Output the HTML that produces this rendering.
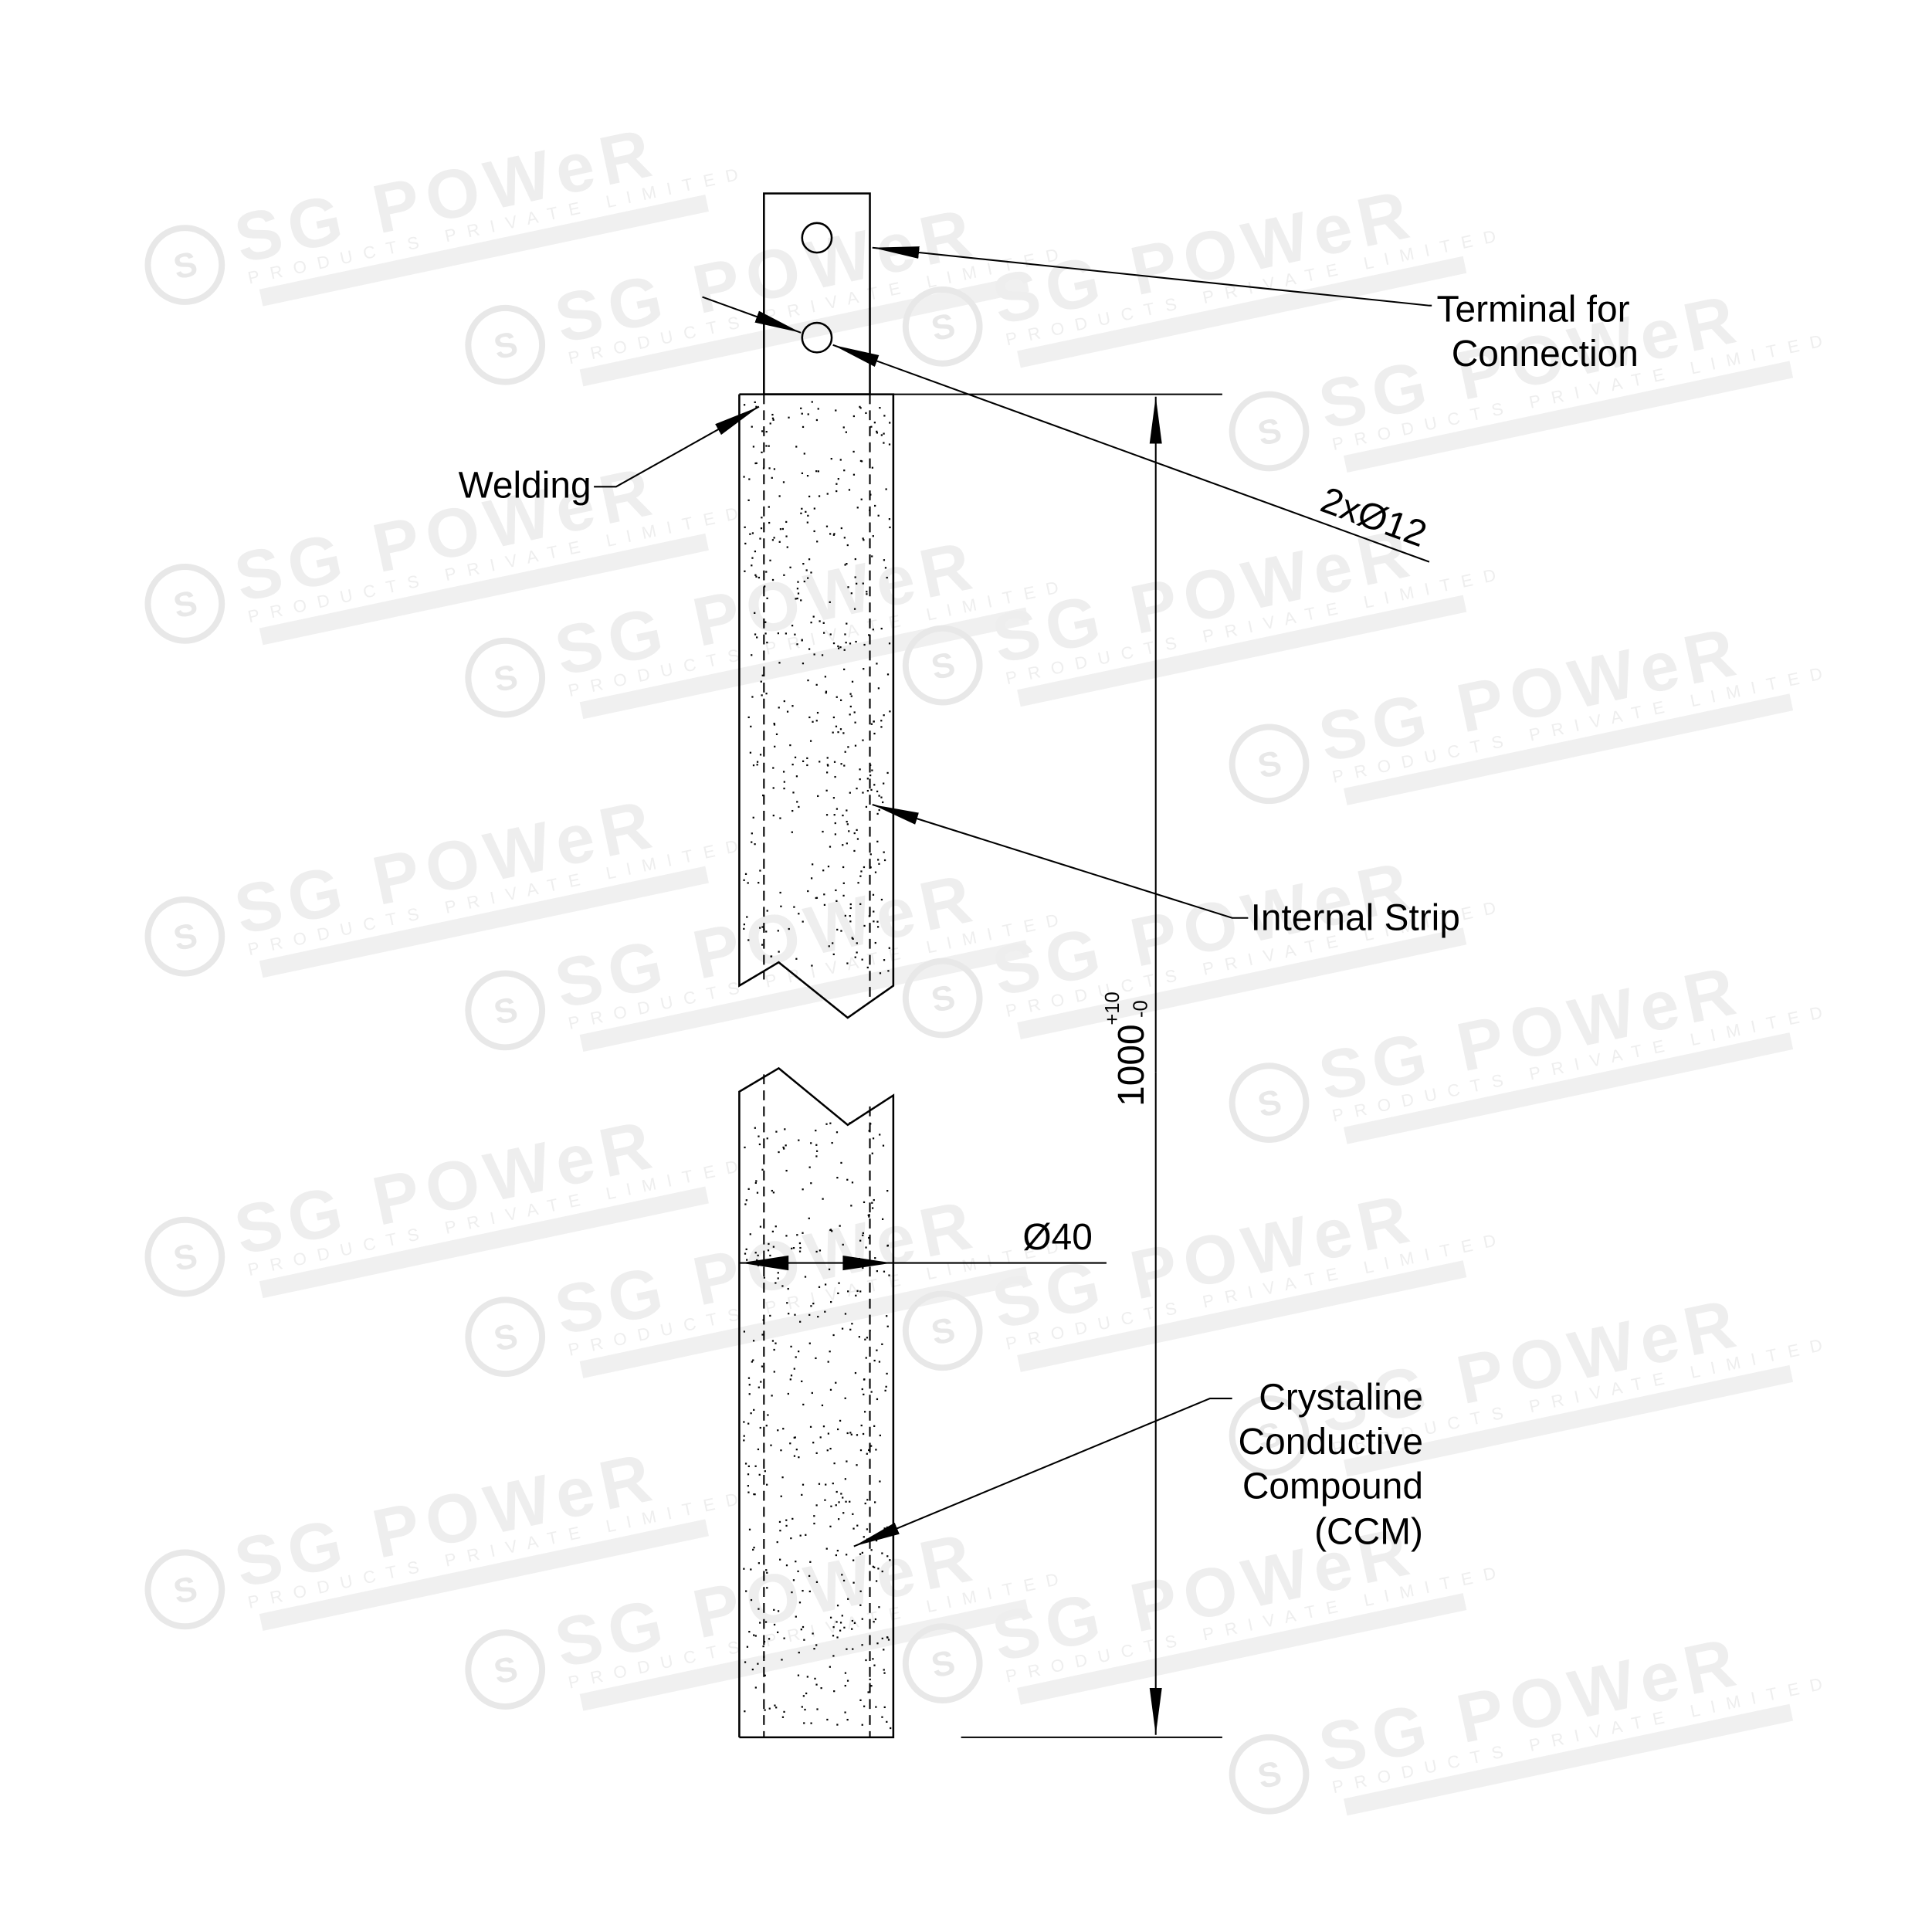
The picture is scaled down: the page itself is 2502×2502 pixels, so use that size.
<!DOCTYPE html>
<html><head><meta charset="utf-8"><style>
html,body{margin:0;padding:0;background:#fff;}
svg{display:block;}
text{font-family:"Liberation Sans",sans-serif;}
</style></head><body>
<svg id="s" width="2502" height="2502" viewBox="0 0 1568 1568" xmlns="http://www.w3.org/2000/svg">
<defs>
<marker id="a" markerWidth="40" markerHeight="12" refX="38" refY="6" orient="auto" markerUnits="userSpaceOnUse">
<path d="M0,1 L38,6 L0,11 Z" fill="#000"/></marker>
<g id="wm" fill="none" stroke="#e8e8e8">
<circle cx="0" cy="0" r="30" stroke-width="5"/>
<text x="-9" y="10" font-size="28" fill="#e8e8e8" stroke="none" font-weight="bold">S</text>
<text x="45" y="8" font-size="56" fill="#eeeeee" stroke="none" font-weight="bold" letter-spacing="6">SG POWeR</text>
<text x="48" y="26" font-size="14" fill="#eeeeee" stroke="none" letter-spacing="9">PRODUCTS PRIVATE LIMITED</text>
<rect x="55" y="32" width="370" height="14" fill="#f0f0f0" stroke="none"/>
</g>
</defs>
<g id="wms"></g>
<g id="dots" fill="#000"></g>
<g stroke="#000" stroke-width="1.6" fill="none">
<rect x="620" y="157" width="86" height="163"/>
<circle cx="663" cy="193" r="12"/>
<circle cx="663" cy="274" r="12"/>
<polyline points="600,320 600,800 632,781 688,826 725,800 725,320 600,320"/>
<polyline points="600,1410 600,886 632,867 688,913 725,889 725,1410 600,1410"/>
<g stroke-dasharray="8,5" stroke-width="1.3">
<line x1="620" y1="320" x2="620" y2="795"/>
<line x1="706" y1="320" x2="706" y2="810"/>
<line x1="620" y1="872" x2="620" y2="1410"/>
<line x1="706" y1="898" x2="706" y2="1410"/>
</g>
<line x1="706" y1="320" x2="992" y2="320" stroke-width="1.3"/>
<line x1="780" y1="1410" x2="992" y2="1410" stroke-width="1.3"/>
<line x1="938" y1="870" x2="938" y2="322" marker-end="url(#a)" stroke-width="1.3"/>
<line x1="938" y1="870" x2="938" y2="1408" marker-end="url(#a)" stroke-width="1.3"/>
<line x1="600" y1="1025" x2="898" y2="1025" stroke-width="1.3"/>
<polyline points="1162,248 1160,248 708,201" marker-end="url(#a)" stroke-width="1.3"/>
<line x1="570" y1="241" x2="650" y2="270" marker-end="url(#a)" stroke-width="1.3"/>
<line x1="1160" y1="456" x2="676" y2="280" marker-end="url(#a)" stroke-width="1.3"/>
<polyline points="482,395 500,395 616,330" marker-end="url(#a)" stroke-width="1.3"/>
<polyline points="1013,745 1000,745 708,653" marker-end="url(#a)" stroke-width="1.3"/>
<polyline points="1000,1135 982,1135 693,1255" marker-end="url(#a)" stroke-width="1.3"/>
</g>
<path d="M601,1025 L640,1019 L640,1031 Z" fill="#000"/>
<path d="M724,1025 L684,1019 L684,1031 Z" fill="#000"/>
<g font-size="30" fill="#000">
<text x="1166" y="261">Terminal for</text>
<text x="1178" y="297">Connection</text>
<text x="372" y="404">Welding</text>
<text x="1015" y="755">Internal Strip</text>
<text x="830" y="1014">Ø40</text>
<text x="1155" y="1144" text-anchor="end">Crystaline</text>
<text x="1155" y="1180" text-anchor="end">Conductive</text>
<text x="1155" y="1216" text-anchor="end">Compound</text>
<text x="1155" y="1253" text-anchor="end">(CCM)</text>
<text transform="translate(1070,414) rotate(20)">2xØ12</text>
<text transform="translate(928,898) rotate(-90)">1000</text>
<text transform="translate(908,832) rotate(-90)" font-size="16">+10</text>
<text transform="translate(931,826) rotate(-90)" font-size="16">-0</text>
</g>
</svg>
<script>
var ns="http://www.w3.org/2000/svg";
var w=document.getElementById("wms");
var pos=[[150,215],[410,280],[765,265],[1030,350],[150,490],[410,550],[765,540],[1030,620],[150,760],[410,820],[765,810],[1030,895],[150,1020],[410,1085],[765,1080],[1030,1165],[150,1290],[410,1355],[765,1350],[1030,1440]];
pos.forEach(function(p){var u=document.createElementNS(ns,"use");u.setAttribute("href","#wm");u.setAttribute("transform","translate("+p[0]+","+p[1]+") rotate(-12)");w.appendChild(u);});
var d=document.getElementById("dots");var seed=7;function r(){seed=(seed*16807)%2147483647;return seed/2147483647;}
function fill(y0,y1,n){for(var i=0;i<n;i++){var x=603+r()*119,y=y0+r()*(y1-y0);var c=document.createElementNS(ns,"rect");c.setAttribute("x",x);c.setAttribute("y",y);c.setAttribute("width",1.4);c.setAttribute("height",1.4);d.appendChild(c);}}
fill(325,790,420);fill(910,1405,440);
</script>
</body></html>
